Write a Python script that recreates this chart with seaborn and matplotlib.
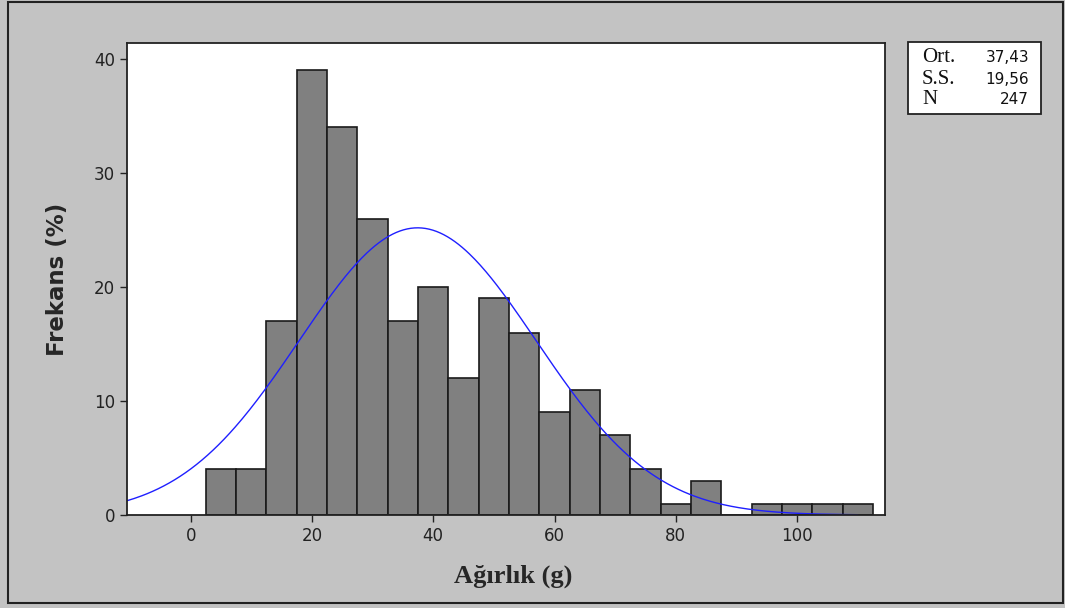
import numpy as np
import pandas as pd
import seaborn as sns
import matplotlib.pyplot as plt
from matplotlib.patches import Rectangle

# Weight classes (bin edges, width 5 g) and counts per class
bin_edges = [2.5, 7.5, 12.5, 17.5, 22.5, 27.5, 32.5, 37.5, 42.5, 47.5, 52.5,
             57.5, 62.5, 67.5, 72.5, 77.5, 82.5, 87.5, 92.5, 97.5, 102.5,
             107.5, 112.5]
counts = [4, 4, 17, 39, 34, 26, 17, 20, 12, 19, 16,
          9, 11, 7, 4, 1, 3, 0, 1, 1, 1, 1]

# Summary statistics
mean_val = 37.43
sd_val = 19.56
n_val = 247

x_ticks = [0, 20, 40, 60, 80, 100]
y_ticks = [0, 10, 20, 30, 40]

centers = [(a + b) / 2 for a, b in zip(bin_edges[:-1], bin_edges[1:])]
df = pd.DataFrame({"agirlik": centers, "adet": counts})

sns.set_style("white")
plt.rcParams["font.family"] = ["DejaVu Sans"]

fig = plt.figure(figsize=(10.65, 6.08), dpi=100)
fig.patch.set_facecolor("#c3c3c3")
fig.patches.append(Rectangle((8 / 1065, 5 / 608), 1055 / 1065, 601 / 608,
                             transform=fig.transFigure, fill=False,
                             edgecolor="#222222", linewidth=1.5))

ax = fig.add_axes([127 / 1065, 93 / 608, 758 / 1065, 472 / 608])
ax.set_facecolor("white")

sns.histplot(data=df, x="agirlik", weights="adet", bins=bin_edges,
             color="#808080", edgecolor="#1a1a1a", linewidth=1.2,
             alpha=1.0, ax=ax)

# Fitted normal curve scaled to counts
bw = bin_edges[1] - bin_edges[0]
xs = np.linspace(-10.5, 110, 400)
ys = n_val * bw / (sd_val * np.sqrt(2 * np.pi)) * np.exp(-0.5 * ((xs - mean_val) / sd_val) ** 2)
sns.lineplot(x=xs, y=ys, color="#1f1fff", linewidth=1.0, ax=ax)

ax.set_xlim(-10.5, 114.5)
ax.set_ylim(0, 41.4)
ax.set_xticks(x_ticks)
ax.set_yticks(y_ticks)
ax.tick_params(axis="both", labelsize=12, colors="#222222", length=5,
               width=1, direction="out", bottom=True, left=True)
for s in ax.spines.values():
    s.set_color("#222222")
    s.set_linewidth(1.3)

ax.set_ylabel("Frekans (%)", fontsize=16.5, fontweight="bold", labelpad=18)
ax.set_xlabel("Ağırlık (g)", fontsize=19, fontweight="bold",
              family=["Liberation Serif"], labelpad=12)
ax.xaxis.set_label_coords(0.51, -0.105)

# Statistics box
fig.patches.append(Rectangle((908 / 1065, (608 - 114) / 608), 133 / 1065, 72 / 608,
                             transform=fig.transFigure, facecolor="white",
                             edgecolor="#222222", linewidth=1.3))
labels = ["Ort.", "S.S.", "N"]
values = [f"{mean_val:.2f}".replace(".", ","), f"{sd_val:.2f}".replace(".", ","), str(n_val)]
for i, (lab, val) in enumerate(zip(labels, values)):
    y = (608 - 58 - i * 21) / 608
    fig.text(922 / 1065, y, lab, fontsize=15, family=["Liberation Serif"],
             va="center", ha="left", color="#111111")
    fig.text(1029 / 1065, y, val, fontsize=11, va="center", ha="right",
             color="#111111")

fig.savefig("out.png", dpi=100, facecolor=fig.get_facecolor())
